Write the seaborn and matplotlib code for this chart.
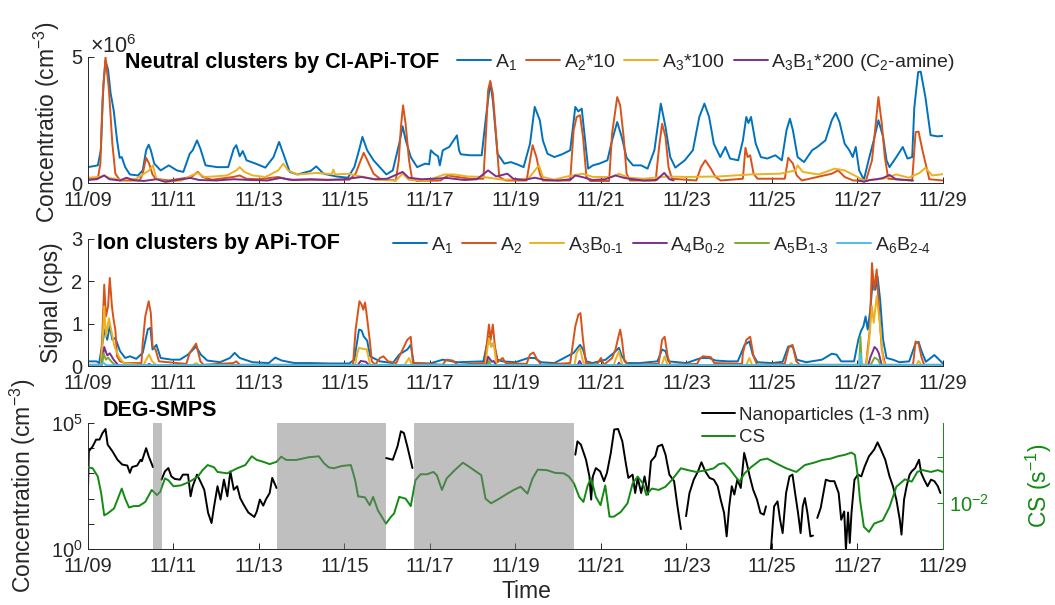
import numpy as np
import pandas as pd
import matplotlib
matplotlib.use("Agg")
import matplotlib.pyplot as plt
import seaborn as sns
from matplotlib.lines import Line2D
from matplotlib.ticker import NullLocator

sns.set_theme(style="ticks")
plt.rcParams["font.family"] = ["Liberation Sans", "DejaVu Sans"]
plt.rcParams["mathtext.fontset"] = "custom"
plt.rcParams["mathtext.rm"] = "Liberation Sans"
plt.rcParams["mathtext.it"] = "Liberation Sans:italic"
plt.rcParams["mathtext.bf"] = "Liberation Sans:bold"
plt.rcParams["mathtext.default"] = "regular"

NAN = np.nan

# ---- time axis: days since 11/09 00:00 ----
tick_days = [0, 2, 4, 6, 8, 10, 12, 14, 16, 18, 20]
tick_labels = ["11/09", "11/11", "11/13", "11/15", "11/17", "11/19",
               "11/21", "11/23", "11/25", "11/27", "11/29"]

# ---- panel 1: neutral clusters (CI-APi-TOF), units of 1e6 cm^-3 ----
a1_t = [0.0, 0.23, 0.30, 0.36, 0.41, 0.47, 0.53, 0.6, 0.68, 0.74, 0.79, 0.87, 0.98, 1.17, 1.28, 1.36,
        1.42, 1.47, 1.55, 1.7, 1.89, 2.08, 2.23, 2.38, 2.45, 2.55, 2.63, 2.75, 3.02, 3.28, 3.41, 3.47,
        3.55, 3.62, 3.71, 3.92, 4.15, 4.34, 4.47, 4.57, 4.72, 4.9, 5.21, 5.34, 5.51, 5.81, 6.08, 6.23,
        6.34, 6.42, 6.53, 6.68, 6.98, 7.13, 7.28, 7.36, 7.43, 7.55, 7.7, 7.89, 7.98, 8.02, 8.1, 8.19,
        8.23, 8.3, 8.45, 8.63, 8.68, 8.72, 8.94, 9.21, 9.31, 9.41, 9.47, 9.58, 9.74, 9.89, 10.04, 10.19,
        10.34, 10.45, 10.57, 10.64, 10.75, 10.91, 11.09, 11.28, 11.4, 11.47, 11.55, 11.62, 11.7, 11.81,
        11.96, 12.15, 12.26, 12.38, 12.49, 12.6, 12.75, 12.94, 13.09, 13.25, 13.4, 13.51, 13.62, 13.74,
        13.96, 14.15, 14.3, 14.42, 14.53, 14.64, 14.79, 14.91, 15.02, 15.21, 15.32, 15.4, 15.45, 15.51,
        15.62, 15.74, 15.89, 16.08, 16.23, 16.34, 16.42, 16.49, 16.6, 16.75, 16.94, 17.06, 17.25, 17.4,
        17.49, 17.58, 17.7, 17.81, 17.89, 17.96, 18.04, 18.15, 18.26, 18.38, 18.49, 18.6, 18.68, 18.75,
        18.91, 19.06, 19.17, 19.28, 19.33, 19.42, 19.48, 19.59, 19.71, 19.87, 20.0]
a1_v = [0.63, 0.70, 1.3, 3.9, 4.85, 4.5, 3.55, 2.9, 1.7, 1.0, 1.03, 0.63, 0.34, 0.3, 0.5, 1.3,
        1.52, 1.3, 0.77, 0.5, 0.7, 0.5, 0.44, 1.16, 1.3, 1.69, 1.36, 0.7, 0.63, 0.63, 1.36, 1.5,
        1.06, 1.27, 0.9, 0.77, 0.61, 1.03, 1.63, 1.16, 0.44, 0.34, 0.48, 0.66, 0.37, 0.26, 0.21, 0.63,
        1.3, 1.83, 1.3, 0.9, 0.34, 0.5, 1.56, 2.25, 1.72, 1.03, 0.63, 0.77, 0.74, 1.3, 1.16, 1.06,
        0.7, 1.3, 1.43, 1.89, 1.3, 1.14, 1.1, 1.1, 2.62, 4.0, 3.28, 1.16, 0.77, 0.83, 0.74, 0.63,
        1.56, 3.02, 2.49, 1.69, 1.16, 1.03, 1.14, 1.3, 3.02, 2.84, 2.95, 1.83, 0.57, 0.7,
        0.77, 0.9, 1.69, 2.42, 1.8, 1.0, 0.7, 0.7, 0.57, 1.3, 3.15, 2.22, 1.03, 0.61,
        0.9, 1.3, 2.62, 3.15, 2.62, 1.56, 1.03, 1.43, 0.97, 0.9, 1.69, 2.62, 2.38, 2.62,
        1.56, 1.03, 0.97, 1.1, 0.9, 2.09, 2.55, 2.09, 1.03, 0.83, 1.3, 1.43, 1.69, 2.49,
        2.78, 2.42, 1.56, 1.3, 1.03, 1.43, 0.5, 0.13, 0.9, 1.69, 2.49, 1.83, 0.9, 0.63,
        1.03, 1.43, 0.97, 1.03, 3.0, 4.4, 4.42, 3.4, 1.9, 1.85, 1.87]

a2x10_t = [0, 0.23, 0.29, 0.34, 0.41, 0.49, 0.57, 0.64, 0.75, 1.21, 1.28, 1.36, 1.43, 1.51, 1.58, 1.89,
           2.42, 2.57, 2.68, 2.9, 3.4, 3.55, 3.7, 4.0, 4.45, 4.7, 6.11, 6.26, 6.38, 6.45, 6.57, 6.68,
           6.83, 7.2, 7.27, 7.32, 7.37, 7.43, 7.51, 7.58, 7.7, 8.25, 8.3, 8.42, 8.64, 8.94, 9.25, 9.31,
           9.36, 9.41, 9.47, 9.55, 9.62, 9.77, 10.26, 10.34, 10.4, 10.49, 10.57, 10.64, 11.28, 11.36,
           11.43, 11.51, 11.58, 11.66, 11.75, 12.19, 12.26, 12.38, 12.45, 12.53, 12.6, 12.68, 13.28,
           13.36, 13.43, 13.51, 13.58, 13.66, 14.23, 14.34, 14.44, 14.57, 14.68, 14.8, 15.32, 15.38,
           15.43, 15.49, 15.57, 15.66, 16.3, 16.38, 16.49, 16.58, 16.7, 17.4, 17.55, 17.7, 17.9, 18.2,
           18.34, 18.42, 18.49, 18.57, 18.64, 18.72, 19.28, 19.36, 19.43, 19.52, 19.59, 19.68, 20.0]
a2x10_v = [0.17, 0.17, 0.77, 3.3, 5.0, 3.7, 1.56, 0.37, 0.1, 0.1, 0.37, 1.0, 0.77, 0.34, 0.17, 0.1,
           0.24, 0.44, 0.24, 0.13, 0.24, 0.3, 0.17, 0.15, 0.24, 0.13, 0.13, 0.37, 0.9, 1.2, 0.77, 0.37,
           0.17, 0.1, 0.9, 2.22, 3.08, 2.35, 0.9, 0.17, 0.08, 0.1, 0.17, 0.3, 0.24, 0.17, 0.17, 1.96,
           3.68, 4.05, 3.55, 1.83, 0.24, 0.1, 0.1, 0.9, 1.5, 1.03, 0.37, 0.1, 0.1, 2.09,
           2.62, 2.69, 1.83, 0.24, 0.08, 0.08, 1.96, 3.41, 3.08, 1.83, 0.37, 0.1, 0.1,
           1.43, 2.35, 1.83, 0.63, 0.17, 0.1, 0.63, 0.9, 0.57, 0.24, 0.1, 0.17, 1.4,
           1.03, 1.1, 0.37, 0.17, 0.17, 1.0, 0.77, 0.3, 0.1, 0.37, 0.5, 0.24, 0.1, 0.1,
           0.9, 2.22, 3.41, 2.35, 1.03, 0.17, 0.1, 2.02, 2.04, 1.3, 0.8, 0.15, 0.1]

a3x100_t = [0, 0.3, 0.38, 0.5, 0.75, 1.13, 1.43, 1.52, 1.6, 1.85, 2.19, 2.42, 2.57, 2.72, 2.94, 3.25,
            3.47, 3.55, 3.66, 3.85, 4.15, 4.45, 4.57, 4.68, 4.9, 5.36, 5.7, 5.74, 5.78, 6.11, 6.26,
            6.45, 6.75, 7.2, 7.36, 7.5, 7.9, 8.34, 8.57, 8.87, 9.25, 9.7, 10.3, 10.55, 10.64, 10.9,
            11.21, 11.58, 11.81, 12.26, 12.42, 12.64, 13.0, 13.55, 14.0, 14.75, 15.51, 16.19, 16.55,
            16.6, 16.72, 17.09, 17.47, 17.7, 18.0, 18.15, 18.6, 18.91, 19.2, 19.45, 19.59, 19.75, 20.0]
a3x100_v = [0.21, 0.25, 0.3, 0.2, 0.13, 0.17, 0.5, 0.7, 0.17, 0.05, 0.1, 0.3, 0.4, 0.24, 0.26, 0.3,
            0.5, 0.63, 0.44, 0.3, 0.24, 0.5, 0.77, 0.5, 0.34, 0.4, 0.35, 0.53, 0.34, 0.37, 0.3,
            0.24, 0.13, 0.1, 0.37, 0.13, 0.08, 0.34, 0.34, 0.26, 0.24, 0.13, 0.17, 0.7, 0.24, 0.13,
            0.26, 0.37, 0.24, 0.24, 0.37, 0.21, 0.17, 0.26, 0.24, 0.26, 0.34, 0.37, 0.5,
            0.7, 0.44, 0.34, 0.57, 0.5, 0.24, 0.1, 0.17, 0.34, 0.21, 0.4, 0.6, 0.3, 0.35]

# NaN marks a gap in the record
a3b1x200_t = [0, 0.2, 0.38, 0.5, 0.75, 0.9, 1.05, 1.3, 1.6, 1.8, 2.0, 2.2, 2.4, 2.6, 3.0, 3.4, 3.8,
              4.2, 4.5, 4.8, 5.2, 5.6, 6.0, 6.4, 6.7, 7.0, 7.36, 7.5, 7.8, 8.1, 8.4, 8.8, 9.1, 9.36,
              9.55, 9.81, 9.95, 10.2, 10.45, 10.7, 11.0, 11.3, 11.4, 11.6, 11.8, 12.1, 12.34, 12.55,
              12.75, 13.0, 13.3, 13.48, 13.6, 13.7, 15.0, 18.02, 18.15, 18.3, 18.45, 18.6, 18.75,
              18.9, 19.3]
a3b1x200_v = [0.12, 0.15, 0.3, 0.15, 0.1, 0.21, 0.12, 0.08, 0.15, 0.05, 0.1, 0.15, 0.2, 0.12, 0.1,
              0.15, 0.12, 0.1, 0.2, 0.12, 0.15, 0.12, 0.15, 0.24, 0.15, 0.17, 0.44, 0.21, 0.15, 0.17,
              0.2, 0.12, 0.15, 0.5, 0.26, 0.37, 0.17, 0.12, 0.21, 0.12, 0.1, 0.15, 0.3, 0.22, 0.12,
              0.15, 0.3, 0.2, 0.15, 0.1, 0.12, 0.4, 0.15, 0.1, NAN, 0.1, 0.05, 0.12, 0.15, 0.2, 0.32,
              0.15, 0.1]

# ---- panel 2: ion clusters (APi-TOF), cps ----
ion_a1_t = [0, 0.2, 0.26, 0.34, 0.39, 0.45, 0.51, 0.57, 0.64, 0.75, 0.87, 0.98, 1.13, 1.28, 1.4, 1.46,
            1.51, 1.6, 1.7, 1.96, 2.15, 2.34, 2.53, 2.64, 2.79, 3.09, 3.32, 3.43, 3.55, 3.85, 4.23,
            4.38, 4.53, 4.83, 5.21, 5.66, 6.11, 6.23, 6.34, 6.4, 6.45, 6.53, 6.6, 6.83, 7.13, 7.28,
            7.47, 7.55, 7.62, 8.0, 8.3, 8.42, 8.64, 9.25, 9.32, 9.38, 9.43, 9.49, 9.58, 9.7, 10.0,
            10.3, 10.45, 10.6, 10.91, 11.36, 11.51, 11.58, 11.66, 11.8, 12.11, 12.3, 12.42, 12.49,
            12.6, 12.9, 13.32, 13.43, 13.51, 13.58, 14.0, 14.34, 14.53, 14.68, 14.98, 15.2, 15.36,
            15.47, 15.55, 15.66, 16.0, 16.25, 16.38, 16.49, 16.58, 16.8, 17.17, 17.4, 17.51, 17.62,
            17.92, 18.02, 18.08, 18.14, 18.19, 18.24, 18.3, 18.36, 18.42, 18.47, 18.53, 18.6, 18.68,
            18.83, 18.98, 19.21, 19.36, 19.43, 19.5, 19.6, 19.8, 20.0]
ion_a1_v = [0.11, 0.11, 0.07, 0.54, 0.86, 0.62, 0.95, 0.62, 0.66, 0.35, 0.19, 0.23, 0.17, 0.31, 0.87,
            0.9, 0.39, 0.5, 0.19, 0.15, 0.15, 0.27, 0.46, 0.27, 0.13, 0.09, 0.19, 0.31, 0.19, 0.09,
            0.07, 0.2, 0.13, 0.07, 0.07, 0.06, 0.06, 0.15, 0.86, 0.84, 0.7, 0.6, 0.23, 0.11, 0.07,
            0.27, 0.39, 0.5, 0.07, 0.06, 0.15, 0.13, 0.09, 0.11, 0.46, 0.7, 0.46, 0.54, 0.15, 0.11,
            0.09, 0.19, 0.19, 0.09, 0.07, 0.31, 0.5, 0.39, 0.11, 0.07, 0.15, 0.31, 0.43, 0.23,
            0.07, 0.07, 0.11, 0.39, 0.35, 0.11, 0.07, 0.19, 0.19, 0.13, 0.11, 0.11, 0.5,
            0.58, 0.27, 0.09, 0.07, 0.1, 0.46, 0.46, 0.15, 0.09, 0.15, 0.29, 0.27, 0.11,
            0.11, 0.62, 0.82, 0.94, 1.17, 0.86, 1.33, 2.04, 1.8, 2.12, 1.57, 0.62, 0.19,
            0.15, 0.09, 0.11, 0.54, 0.57, 0.35, 0.1, 0.26, 0.06]

ion_a2_t = [0, 0.3, 0.34, 0.38, 0.42, 0.47, 0.51, 0.56, 0.6, 0.64, 0.68, 0.75, 0.87, 1.25, 1.28, 1.34,
            1.42, 1.47, 1.51, 1.58, 1.66, 2.3, 2.38, 2.53, 2.63, 2.7, 3.4, 3.47, 3.55, 6.2, 6.26, 6.35,
            6.4, 6.44, 6.48, 6.51, 6.59, 6.64, 6.72, 6.83, 6.91, 7.02, 7.21, 7.36, 7.47, 7.55, 7.6,
            8.3, 8.38, 8.53, 8.64, 9.28, 9.34, 9.38, 9.42, 9.47, 9.52, 9.58, 9.7, 9.77, 10.26, 10.34,
            10.42, 10.51, 10.6, 11.28, 11.4, 11.47, 11.52, 11.58, 11.65, 11.9, 12.0, 12.07, 12.26,
            12.34, 12.4, 12.45, 12.49, 12.55, 12.65, 13.35, 13.43, 13.49, 13.56, 13.62, 14.25, 14.3,
            14.38, 14.57, 14.65, 15.3, 15.32, 15.4, 15.49, 15.57, 15.65, 16.3, 16.34, 16.4, 16.48,
            16.57, 16.65, 18.2, 18.23, 18.29, 18.34, 18.39, 18.45, 18.51, 18.57, 18.65, 19.3, 19.36,
            19.43, 19.5, 19.56, 20.0]
ion_a2_v = [0.03, 0.03, 0.86, 1.92, 1.17, 1.41, 2.08, 1.41, 1.09, 0.86, 0.23, 0.11, 0.07, 0.07, 0.54,
            1.17, 1.53, 1.25, 0.46, 0.39, 0.11, 0.05, 0.31, 0.53, 0.11, 0.03, 0.07, 0.11, 0.03, 0.03,
            0.86, 1.53, 1.45, 1.33, 1.5, 1.29, 0.62, 0.11, 0.03, 0.19, 0.23, 0.11, 0.07, 0.39, 0.62,
            0.69, 0.07, 0.03, 0.15, 0.13, 0.03, 0.07, 0.62, 0.98, 0.62, 0.98, 0.46, 0.09, 0.19, 0.07,
            0.05, 0.27, 0.32, 0.15, 0.03, 0.07, 0.94, 1.21, 1.25, 0.62, 0.07, 0.03, 0.19, 0.03, 0.19,
            0.39, 0.66, 0.86, 0.62, 0.11, 0.03, 0.05, 0.62, 0.69, 0.23, 0.03, 0.05, 0.15,
            0.23, 0.21, 0.07, 0.05, 0.31, 0.62, 0.69, 0.23, 0.03, 0.05, 0.23, 0.46, 0.5,
            0.11, 0.03, 0.03, 0.31, 0.86, 2.43, 1.8, 2.28, 1.25, 0.39, 0.03, 0.03, 0.58,
            0.53, 0.2, 0.03, 0.03]

ion_a3_t = [0, 0.3, 0.34, 0.38, 0.42, 0.49, 0.54, 0.62, 0.72, 0.83, 1.3, 1.36, 1.43, 1.5, 1.6, 2.45,
            2.53, 2.6, 6.25, 6.3, 6.34, 6.45, 6.52, 6.6, 7.4, 7.51, 7.58, 9.3, 9.34, 9.38, 9.43, 9.49,
            9.56, 11.38, 11.43, 11.51, 11.58, 11.64, 12.3, 12.34, 12.42, 12.5, 13.42, 13.49, 13.56,
            15.4, 15.47, 15.54, 16.4, 16.45, 16.5, 18.2, 18.26, 18.34, 18.38, 18.45, 18.53, 18.6,
            18.65, 19.38, 19.43, 19.5, 20.0]
ion_a3_v = [0.02, 0.02, 0.54, 1.41, 0.7, 1.13, 0.86, 0.46, 0.23, 0.07, 0.02, 0.15, 0.27, 0.11, 0.02,
            0.02, 0.07, 0.02, 0.02, 0.3, 0.43, 0.4, 0.4, 0.03, 0.02, 0.19, 0.02, 0.02, 0.39, 0.66,
            0.46, 0.54, 0.02, 0.02, 0.31, 0.43, 0.1, 0.02, 0.02, 0.15, 0.35, 0.02, 0.02, 0.23, 0.02,
            0.02, 0.19, 0.02, 0.02, 0.07, 0.02, 0.02, 0.46, 1.41, 1.02, 1.65, 0.94, 0.15, 0.02, 0.02,
            0.12, 0.02, 0.02]

ion_a4_t = [0, 0.32, 0.38, 0.45, 0.51, 0.6, 0.7, 0.8, 1.38, 1.43, 1.5, 6.3, 6.38, 6.5, 6.58, 9.32,
            9.36, 9.45, 9.49, 9.55, 11.45, 11.5, 11.56, 12.38, 12.42, 12.46, 18.25, 18.3, 18.4,
            18.45, 18.5, 18.56, 18.6, 20.0]
ion_a4_v = [0.01, 0.01, 0.45, 0.25, 0.3, 0.15, 0.03, 0.01, 0.01, 0.05, 0.01, 0.01, 0.12, 0.1, 0.01,
            0.01, 0.22, 0.1, 0.12, 0.01, 0.01, 0.12, 0.01, 0.01, 0.08, 0.01, 0.01, 0.2, 0.45, 0.4,
            0.3, 0.05, 0.01, 0.01]

ion_a5_t = [0, 0.32, 0.36, 0.42, 0.47, 0.55, 0.65, 6.35, 6.4, 6.45, 9.34, 9.38, 9.43, 18.04, 18.07,
            18.1, 18.3, 18.4, 18.48, 18.55, 20.0]
ion_a5_v = [0.01, 0.01, 0.3, 0.15, 0.2, 0.1, 0.01, 0.01, 0.04, 0.01, 0.01, 0.12, 0.01, 0.01, 0.69,
            0.01, 0.01, 0.2, 0.15, 0.01, 0.01]

ion_a6_t = [0, 0.3, 0.36, 0.42, 18.04, 18.07, 18.1, 20.0]
ion_a6_v = [0.02, 0.02, 0.08, 0.02, 0.02, 0.3, 0.02, 0.02]

# ---- panel 3: DEG-SMPS 1-3 nm particles (log10 cm^-3) and CS (log10 s^-1) ----
nano_t = [0, 0.02, 0.11, 0.19, 0.27, 0.34, 0.41, 0.46, 0.57, 0.69, 0.8, 0.92, 0.98, 1.03, 1.15,
          1.23, 1.26, 1.36, 1.42, 1.52, 1.6,
          1.72, 1.8, 1.88, 1.95, 2.03, 2.15, 2.22, 2.34, 2.4, 2.45, 2.55, 2.61, 2.72, 2.81, 2.89,
          2.95, 3.03, 3.1, 3.18, 3.26, 3.33, 3.41, 3.49, 3.56, 3.64, 3.75, 3.89, 3.95, 4.02, 4.1,
          4.16, 4.25, 4.31, 4.41, 5.5,
          6.97, 7.13, 7.24, 7.32, 7.39, 7.47, 7.59, 9.0,
          11.4, 11.45, 11.53, 11.65, 11.73, 11.77, 11.81, 11.88, 11.98, 12.07, 12.14, 12.23, 12.31,
          12.4, 12.5, 12.58, 12.64, 12.74, 12.8, 12.86, 12.94, 13.02, 13.1, 13.17, 13.27, 13.33,
          13.43, 13.51, 13.6, 13.71, 13.79, 13.87, 13.93,
          13.99, 14.07, 14.17, 14.27, 14.35, 14.44, 14.54, 14.64, 14.73, 14.8, 14.88, 14.94, 15.0,
          15.06, 15.12, 15.19, 15.27, 15.35, 15.4, 15.48, 15.56, 15.65, 15.73, 15.81, 15.86, 15.92,
          15.97, 16.05, 16.13, 16.19, 16.25, 16.33, 16.41, 16.48, 16.53, 16.61, 16.67, 16.72, 16.77,
          16.83, 16.9, 16.96, 17.0,
          17.06, 17.14, 17.26, 17.36, 17.46, 17.56, 17.62, 17.69, 17.73, 17.78, 17.82, 17.86, 17.93,
          18.01, 18.09, 18.17, 18.27, 18.39, 18.47, 18.55, 18.65, 18.75, 18.83, 18.91, 18.99, 19.03,
          19.09, 19.15, 19.22, 19.27, 19.35, 19.44, 19.49, 19.56, 19.64, 19.72, 19.8, 19.88, 19.94]
nano_log = [2.35, 3.88, 4.07, 4.34, 4.34, 4.6, 4.76, 4.14, 3.88, 3.54, 3.35, 3.31, 3.02, 3.25, 3.31,
            3.54, 3.48, 4.0, 3.68, 3.25, NAN,
            2.75, 3.08, 3.21, 2.88, 2.78, 2.75, 2.95, 2.95, 2.09, 2.49, 2.95, 2.75, 2.35, 1.43, 1.03,
            1.69, 2.49, 1.96, 2.75, 2.09, 3.08, 2.35, 2.49, 2.02, 1.76, 1.45, 1.27, 1.49, 1.96, 1.72,
            1.96, 2.22, 2.82, 2.42, NAN,
            3.61, 3.54, 4.07, 4.67, 4.6, 4.07, 3.21, NAN,
            3.74, 4.27, 4.14, 3.54, 2.88, 1.96, 2.88, 3.21, 3.08, 2.69, 3.02, 3.81, 4.74,
            4.76, 4.27, 3.41, 2.82, 2.95, 2.22, 2.82, 2.22, 2.88, 2.16, 3.48, 3.68, 4.07,
            4.14, 3.74, 2.95, 2.69, 1.69, 0.79, NAN,
            1.3, 2.22, 2.75, 3.08, 3.44, 3.08, 2.82, 2.75, 2.49, 1.96, 1.43, 0.5, 1.69,
            2.49, 2.16, 2.75, 2.42, 3.81, 3.48, 2.88, 2.35, 1.96, 1.43, 1.36, 1.69, NAN,
            -0.16, 1.69, 1.89, 1.16, 0.63, 2.22, 2.88, 2.95, 2.35, 1.43, 0.63, 1.69, 2.02,
            1.43, 0.5, 0.53, NAN,
            1.23, 1.63, 2.75, 2.69, 2.69, 2.22, 1.16, 1.49, -0.03, 1.45, 0.24, 1.43, 2.75,
            2.95, 2.88, 3.28, 3.68, 3.94, 4.23, 3.94, 3.54, 2.88, 2.49, 1.96, 1.16, 0.57,
            1.96, 2.49, 2.95, 3.08, 3.21, 3.54, 3.02, 2.75, 2.49, 2.75, 2.69, 2.49, 2.22]

cs_t = [0, 0.11, 0.23, 0.31, 0.38, 0.46, 0.61, 0.73, 0.79, 0.87, 0.96, 1.07, 1.19, 1.34, 1.49, 1.61,
        1.69, 1.8, 1.88, 2.0, 2.18, 2.38, 2.57, 2.68, 2.8, 2.95, 3.03, 3.26, 3.49, 3.68, 3.83, 3.95,
        4.1, 4.25, 4.41, 4.52, 4.64, 4.87, 5.17, 5.4, 5.52, 5.63, 5.75, 5.94, 6.15, 6.25, 6.32, 6.48,
        6.59, 6.67, 6.78, 6.97, 7.09, 7.16, 7.28, 7.43, 7.55, 7.66, 7.78, 7.93, 8.08, 8.16, 8.28,
        8.39, 8.58, 8.77, 8.89, 9.2, 9.3, 9.43, 9.62, 9.81, 9.96, 10.12, 10.28, 10.4, 10.52, 10.73,
        10.93, 11.13, 11.25, 11.37, 11.49, 11.59, 11.69, 11.77, 11.88, 11.99, 12.1, 12.2, 12.3,
        12.46, 12.62, 12.74, 12.86, 12.98, 13.06, 13.19, 13.35, 13.51, 13.67, 13.87, 14.03, 14.23,
        14.48, 14.64, 14.76, 14.88, 15.0, 15.12, 15.24, 15.36, 15.52, 15.73, 15.89, 16.09, 16.33,
        16.57, 16.77, 16.98, 17.18, 17.38, 17.54, 17.7, 17.86, 17.94, 18.01, 18.06, 18.15, 18.27,
        18.39, 18.59, 18.75, 18.91, 19.11, 19.27, 19.4, 19.52, 19.72, 19.88, 20.0]
cs_log = [-1.23, -1.25, -1.43, -1.8, -2.27, -2.23, -2.12, -1.83, -1.69, -1.91, -2.1, -2.07, -2.07,
          -1.98, -1.72, -1.83, -1.76, -1.47, -1.51, -1.64, -1.62, -1.54, -1.43, -1.29, -1.18, -1.23,
          -1.33, -1.36, -1.25, -1.18, -0.99, -1.07, -1.11, -1.16, -1.11, -1.0, -1.07, -1.07, -1.01,
          -0.99, -1.14, -1.23, -1.25, -1.2, -1.18, -1.51, -1.86, -1.88, -2.05, -1.87, -2.16, -2.45,
          -2.3, -2.23, -1.87, -1.91, -2.07, -1.51, -1.38, -1.38, -1.33, -1.4, -1.72, -1.47, -1.29,
          -1.13, -1.2, -1.4, -1.91, -2.01, -1.91, -1.8, -1.72, -1.65, -1.8, -1.47, -1.28, -1.29,
          -1.35, -1.36, -1.43, -1.58, -1.87, -1.98, -1.62, -1.47, -1.87, -2.05, -1.62, -2.3, -2.3,
          -2.2, -2.01, -1.58, -1.43, -1.58, -1.83, -1.69, -1.72, -1.65, -1.49, -1.25, -1.29, -1.33,
          -1.29, -1.25, -1.16, -1.14, -1.25, -1.4, -1.54, -1.36, -1.22, -1.07, -1.04, -1.14, -1.25,
          -1.33, -1.18, -1.13, -1.07, -1.04, -0.99, -0.96, -0.91, -0.96, -1.43, -1.94, -2.52, -2.63,
          -2.45, -2.38, -2.09, -1.65, -1.49, -1.54, -1.33, -1.29, -1.33, -1.29, -1.33]

# instrument downtime (shaded)
downtime = [(1.52, 1.72), (4.41, 6.97), (7.62, 11.37)]

# ---- styling ----
AXC = "#262626"
C_BLUE, C_ORANGE, C_YELLOW = "#0072BD", "#D95319", "#EDB120"
C_PURPLE, C_GREEN, C_CYAN = "#7E2F8E", "#77AC30", "#4DBEEE"
C_CS = "#138a13"
LW = 1.4
TICK_FS, LABEL_FS, TITLE_FS = 14.5, 16.5, 15.5


def frame(t, v):
    t = np.asarray(t, float)
    v = np.asarray(v, float)
    seg = np.cumsum(np.isnan(v))
    keep = ~np.isnan(v)
    return pd.DataFrame({"t": t[keep], "v": v[keep], "seg": seg[keep]})


def draw(ax, t, v, color):
    df = frame(t, v)
    sns.lineplot(data=df, x="t", y="v", units="seg", estimator=None, sort=False,
                 color=color, linewidth=LW, ax=ax, legend=False)


def style(ax):
    ax.set_xlim(0, 20)
    ax.set_xticks(tick_days)
    ax.set_xticklabels(tick_labels)
    ax.set_xlabel("")
    ax.set_ylabel("")
    for s in ("top", "right"):
        ax.spines[s].set_visible(False)
    for s in ("left", "bottom"):
        ax.spines[s].set_color(AXC)
        ax.spines[s].set_linewidth(0.7)
    ax.tick_params(direction="in", length=4, width=0.7, colors=AXC, labelsize=TICK_FS)
    ax.tick_params(axis="x", pad=5.5)
    ax.tick_params(axis="y", pad=4)
    ax.yaxis.set_minor_locator(NullLocator())
    ax.xaxis.set_minor_locator(NullLocator())


def legend(ax, handles, labels, size, **kw):
    ax.legend(handles, labels, frameon=False, fontsize=size, handlelength=1.75,
              handletextpad=0.2, columnspacing=0.45, borderpad=0, borderaxespad=0, **kw)


fig = plt.figure(figsize=(10.55, 6.05), dpi=100)
ax1 = fig.add_axes([0.0834, 0.6975, 0.8104, 0.2083])
ax2 = fig.add_axes([0.0834, 0.3950, 0.8104, 0.2100])
ax3 = fig.add_axes([0.0834, 0.0926, 0.8104, 0.2083])

# panel 1
draw(ax1, a1_t, a1_v, C_BLUE)
draw(ax1, a2x10_t, a2x10_v, C_ORANGE)
draw(ax1, a3x100_t, a3x100_v, C_YELLOW)
draw(ax1, a3b1x200_t, a3b1x200_v, C_PURPLE)
style(ax1)
ax1.set_ylim(0, 5)
ax1.set_yticks([0, 5])
ax1.set_yticklabels(["0", "5"])
ax1.text(0.002, 1.03, r"$\times$10$^6$", transform=ax1.transAxes, fontsize=15.5,
         color=AXC, ha="left", va="baseline")
ax1.set_ylabel(r"Concentratio (cm$^{-3}$)", fontsize=LABEL_FS, color=AXC)
ax1.yaxis.set_label_coords(-0.030, 0.48)
ax1.text((125 - 88) / 855, 0.955, "Neutral clusters by CI-APi-TOF", transform=ax1.transAxes,
         fontsize=TITLE_FS, fontweight="bold", ha="left", va="center", color="black")
h1 = [Line2D([], [], color=c, lw=LW) for c in (C_BLUE, C_ORANGE, C_YELLOW, C_PURPLE)]
l1 = [r"A$_1$", r"A$_2$*10", r"A$_3$*100", r"A$_3$B$_1$*200 (C$_2$-amine)"]
legend(ax1, h1, l1, 14, loc="center left", bbox_to_anchor=((457 - 88) / 855, 0.955), ncol=4)

# panel 2
draw(ax2, ion_a1_t, ion_a1_v, C_BLUE)
draw(ax2, ion_a2_t, ion_a2_v, C_ORANGE)
draw(ax2, ion_a3_t, ion_a3_v, C_YELLOW)
draw(ax2, ion_a4_t, ion_a4_v, C_PURPLE)
draw(ax2, ion_a5_t, ion_a5_v, C_GREEN)
draw(ax2, ion_a6_t, ion_a6_v, C_CYAN)
style(ax2)
ax2.set_ylim(0, 3)
ax2.set_yticks([0, 1, 2, 3])
ax2.set_ylabel("Signal (cps)", fontsize=LABEL_FS, color=AXC)
ax2.yaxis.set_label_coords(-0.029, 0.5)
ax2.text((97 - 88) / 855, 0.965, "Ion clusters by APi-TOF", transform=ax2.transAxes,
         fontsize=TITLE_FS, fontweight="bold", ha="left", va="center", color="black")
h2 = [Line2D([], [], color=c, lw=LW)
      for c in (C_BLUE, C_ORANGE, C_YELLOW, C_PURPLE, C_GREEN, C_CYAN)]
l2 = [r"A$_1$", r"A$_2$", r"A$_3$B$_{\text{0-1}}$", r"A$_4$B$_{\text{0-2}}$",
      r"A$_5$B$_{\text{1-3}}$", r"A$_6$B$_{\text{2-4}}$"]
legend(ax2, h2, l2, 14, loc="center left", bbox_to_anchor=((393 - 88) / 855, 0.955), ncol=6)

# panel 3
ax3.set_yscale("log")
draw(ax3, nano_t, [10 ** x if not np.isnan(x) else NAN for x in nano_log], "black")
style(ax3)
ax3.set_ylim(1, 1e5)
ax3.set_yticks([1, 10, 100, 1e3, 1e4, 1e5])
ax3.set_yticklabels([r"10$^0$", "", "", "", "", r"10$^5$"])
ax3.yaxis.set_minor_locator(NullLocator())
ax3.set_ylabel(r"Concentration (cm$^{-3}$)", fontsize=LABEL_FS, color=AXC)
ax3.yaxis.set_label_coords(-0.0585, 0.5)
ax3.set_xlabel("Time", fontsize=LABEL_FS, color=AXC)
ax3.xaxis.set_label_coords(0.513, -0.245)
ax3.text((103 - 88) / 855, 1.10, "DEG-SMPS", transform=ax3.transAxes,
         fontsize=TITLE_FS, fontweight="bold", ha="left", va="center", color="black")

ax3r = ax3.twinx()
ax3r.set_yscale("log")
draw(ax3r, cs_t, [10 ** x for x in cs_log], C_CS)
for lo, hi in downtime:
    ax3r.axvspan(lo, hi, color="0.5", alpha=0.5, lw=0, zorder=5)
ax3r.set_xlim(0, 20)
ax3r.set_ylim(1e-3, 0.54)
ax3r.set_yticks([1e-2, 1e-1])
ax3r.set_yticklabels([r"10$^{-2}$", ""])
ax3r.yaxis.set_minor_locator(NullLocator())
for s in ("top", "left", "bottom"):
    ax3r.spines[s].set_visible(False)
ax3r.spines["right"].set_color(C_CS)
ax3r.spines["right"].set_linewidth(0.7)
ax3r.tick_params(axis="y", direction="in", length=4, width=0.7, colors=C_CS,
                 labelsize=TICK_FS, pad=4)
ax3r.set_ylabel(r"CS (s$^{-1}$)", fontsize=LABEL_FS, color=C_CS, rotation=90)
ax3r.yaxis.set_label_coords(1.095, 0.5)

h3 = [Line2D([], [], color="black", lw=LW), Line2D([], [], color=C_CS, lw=LW)]
l3 = ["Nanoparticles (1-3 nm)", "CS"]
legend(ax3r, h3, l3, 13.5, loc="upper left", bbox_to_anchor=((702 - 88) / 855, 1.13), ncol=1,
       labelspacing=0.3)

fig.savefig("out.png", dpi=100)
